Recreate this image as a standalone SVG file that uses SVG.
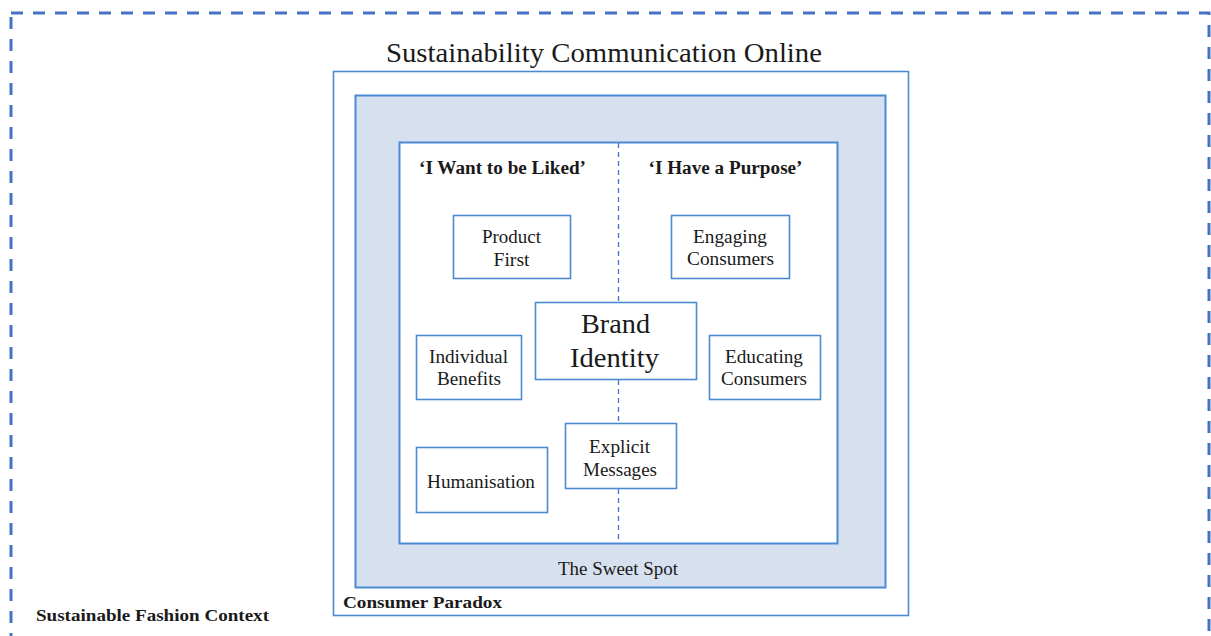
<svg xmlns="http://www.w3.org/2000/svg" width="1211" height="636" viewBox="0 0 1211 636">
  <style>
    .frame { fill: none; stroke: #4a8ad4; stroke-width: 1.6; }
    .node { fill: #ffffff; stroke: #4a8ad4; stroke-width: 1.6; }
    .t { font-family: "Liberation Serif", "Times New Roman", serif; fill: #1a1a1a; text-anchor: middle; }
    .s { text-anchor: start; }
    .lbl { font-size: 18px; }
    .b { font-weight: bold; }
    .div { stroke: #4472c4; stroke-width: 1.3; stroke-dasharray: 5 4; }
  </style>
  <rect width="1211" height="636" fill="#ffffff"/>

  <!-- outer context boundary -->
  <g id="context">
    <rect x="11" y="13" width="1198" height="625" fill="none" stroke="#4472c4" stroke-width="3" stroke-dasharray="12 10"/>
    <text class="t s b" x="36" y="621" font-size="17" textLength="233" lengthAdjust="spacingAndGlyphs">Sustainable Fashion Context</text>
  </g>

  <!-- communication frame -->
  <g id="communication">
    <text class="t" x="604" y="62" font-size="28" textLength="436" lengthAdjust="spacingAndGlyphs">Sustainability Communication Online</text>
    <rect class="frame" x="333.5" y="71.5" width="575" height="544"/>
    <text class="t s b" x="343" y="608" font-size="17" textLength="159" lengthAdjust="spacingAndGlyphs">Consumer Paradox</text>
  </g>

  <!-- sweet spot band -->
  <g id="sweet-spot">
    <rect x="355.5" y="95.5" width="530" height="492" fill="#d6e0ef" stroke="#4a8ad4" stroke-width="2"/>
    <text class="t lbl" x="618" y="575" textLength="120" lengthAdjust="spacingAndGlyphs">The Sweet Spot</text>
  </g>

  <!-- inner working area -->
  <g id="inner">
    <rect x="399.5" y="142.5" width="438" height="401" fill="#ffffff" stroke="#4a8ad4" stroke-width="2"/>
    <text class="t b" x="502.5" y="174" font-size="18" textLength="167" lengthAdjust="spacingAndGlyphs">‘I Want to be Liked’</text>
    <text class="t b" x="725.5" y="174" font-size="18" textLength="154" lengthAdjust="spacingAndGlyphs">‘I Have a Purpose’</text>
  </g>

  <!-- divider between the two orientations -->
  <g id="connectors">
    <line class="div" x1="618.5" y1="143" x2="618.5" y2="302"/>
    <line class="div" x1="618.5" y1="380" x2="618.5" y2="423"/>
    <line class="div" x1="618.5" y1="489" x2="618.5" y2="543"/>
  </g>

  <g id="product-first">
    <rect class="node" x="453.5" y="215.5" width="117" height="63"/>
    <text class="t lbl" x="511.5" y="243" textLength="59" lengthAdjust="spacingAndGlyphs">Product</text>
    <text class="t lbl" x="511.5" y="266" textLength="36" lengthAdjust="spacingAndGlyphs">First</text>
  </g>

  <g id="engaging-consumers">
    <rect class="node" x="671.5" y="215.5" width="118" height="63"/>
    <text class="t lbl" x="730" y="243" textLength="74" lengthAdjust="spacingAndGlyphs">Engaging</text>
    <text class="t lbl" x="730.5" y="265" textLength="87" lengthAdjust="spacingAndGlyphs">Consumers</text>
  </g>

  <g id="brand-identity">
    <rect class="node" x="535.5" y="302.5" width="161" height="77"/>
    <text class="t" x="615.5" y="333" font-size="28" textLength="69" lengthAdjust="spacingAndGlyphs">Brand</text>
    <text class="t" x="614.5" y="367" font-size="28" textLength="89" lengthAdjust="spacingAndGlyphs">Identity</text>
  </g>

  <g id="individual-benefits">
    <rect class="node" x="416.5" y="335.5" width="105" height="64"/>
    <text class="t lbl" x="468.5" y="363" textLength="79" lengthAdjust="spacingAndGlyphs">Individual</text>
    <text class="t lbl" x="469" y="385" textLength="64" lengthAdjust="spacingAndGlyphs">Benefits</text>
  </g>

  <g id="educating-consumers">
    <rect class="node" x="709.5" y="335.5" width="111" height="64"/>
    <text class="t lbl" x="764" y="363" textLength="78" lengthAdjust="spacingAndGlyphs">Educating</text>
    <text class="t lbl" x="764" y="385" textLength="86" lengthAdjust="spacingAndGlyphs">Consumers</text>
  </g>

  <g id="humanisation">
    <rect class="node" x="416.5" y="447.5" width="131" height="65"/>
    <text class="t lbl" x="481" y="488" textLength="108" lengthAdjust="spacingAndGlyphs">Humanisation</text>
  </g>

  <g id="explicit-messages">
    <rect class="node" x="565.5" y="423.5" width="111" height="65"/>
    <text class="t lbl" x="619.5" y="453" textLength="61" lengthAdjust="spacingAndGlyphs">Explicit</text>
    <text class="t lbl" x="620" y="476" textLength="74" lengthAdjust="spacingAndGlyphs">Messages</text>
  </g>
</svg>
